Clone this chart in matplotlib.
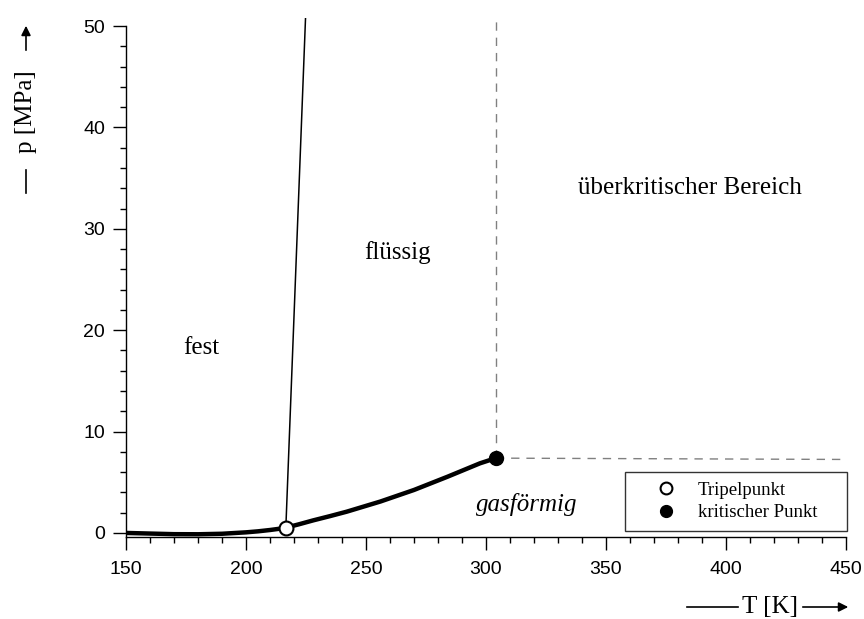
import numpy as np
import matplotlib.pyplot as plt
from matplotlib.ticker import MultipleLocator
from matplotlib.lines import Line2D

# CO2 Phasendiagramm
T_sub = [150, 160, 170, 180, 190, 200, 205, 210, 213.5, 216.6]
p_sub = [0.0, -0.06, -0.12, -0.13, -0.08, 0.06, 0.16, 0.29, 0.40, 0.52]
T_vap = [216.6, 222, 228, 235, 242, 256, 270, 284, 297.5, 304.1]
p_vap = [0.52, 0.85, 1.24, 1.66, 2.10, 3.10, 4.24, 5.55, 6.87, 7.38]
T_melt = [216.6, 225.0]
p_melt = [0.52, 52.0]
T_krit_h = [304.1, 450]
p_krit_h = [7.38, 7.25]
T_trip, p_trip = 216.6, 0.52
T_krit, p_krit = 304.1, 7.38

serif = 'Liberation Serif'
sans = 'Liberation Sans'

fig = plt.figure(figsize=(8.64, 6.19), dpi=100)
ax = fig.add_axes([126 / 864, (619 - 537) / 619, 720 / 864, (537 - 18) / 619])

ax.plot(T_sub + T_vap[1:], p_sub + p_vap[1:], color='black', lw=3.2,
        solid_capstyle='round', solid_joinstyle='round', zorder=3)
ax.plot(T_melt, p_melt, color='black', lw=1.1, zorder=3)
ax.plot([T_krit, T_krit], [p_krit, 52], color='#808080', lw=1.0,
        dashes=(6, 5), zorder=2)
ax.plot(T_krit_h, p_krit_h, color='#808080', lw=1.0, dashes=(6, 5), zorder=2)

ax.plot(T_trip, p_trip, 'o', ms=10, mfc='white', mec='black', mew=1.5,
        zorder=4, label='Tripelpunkt')
ax.plot(T_krit, p_krit, 'o', ms=10, mfc='black', mec='black',
        zorder=4, label='kritischer Punkt')

ax.set_xlim(150, 450)
ax.set_ylim(-0.4, 50.8)
ax.xaxis.set_major_locator(MultipleLocator(50))
ax.xaxis.set_minor_locator(MultipleLocator(10))
ax.yaxis.set_minor_locator(MultipleLocator(2))
ax.set_yticks(np.arange(0, 51, 10))
ax.tick_params(which='major', length=9.5, width=1, labelsize=14, direction='out')
ax.tick_params(which='minor', length=4.5, width=1, direction='out')
ax.tick_params(axis='x', which='major', pad=8)
ax.tick_params(axis='y', which='major', pad=5.5)
for lab in ax.get_xticklabels() + ax.get_yticklabels():
    lab.set_family(sans)

ax.spines['top'].set_visible(False)
ax.spines['right'].set_visible(False)
ax.spines['left'].set_bounds(-0.4, 50)
for s in ('left', 'bottom'):
    ax.spines[s].set_linewidth(1.0)

# Bereiche
ax.text(181.5, 18.2, 'fest', family=serif, fontsize=18, ha='center', va='center')
ax.text(263, 27.7, 'flüssig', family=serif, fontsize=18, ha='center', va='center')
ax.text(385, 34.0, 'überkritischer Bereich', family=serif, fontsize=18,
        ha='center', va='center')
ax.text(317, 2.8, 'gasförmig', family=serif, style='italic', fontsize=18,
        ha='center', va='center')

# Legende unten rechts, Rahmen auf feste Breite gezogen
leg = ax.legend(loc='lower left', bbox_to_anchor=(0.693, 0.012, 0.308, 0.12),
                mode='expand', frameon=True, fancybox=False, borderaxespad=0,
                handlelength=3.4, handletextpad=0.0, borderpad=0.5,
                labelspacing=0.3, prop={'family': serif, 'size': 13.5},
                numpoints=1, markerscale=0.85)
leg.get_frame().set_edgecolor('black')
leg.get_frame().set_linewidth(1.0)

# Achsenbeschriftungen mit Pfeilen
fig.text(26, 619 - 112, 'p [MPa]', transform=None, family=serif, fontsize=18,
         rotation=90, ha='center', va='center')
fig.add_artist(Line2D([26, 26], [619 - 193, 619 - 170], transform=None,
                      color='black', lw=1.2))
ax.annotate('', xy=(26, 619 - 23), xytext=(26, 619 - 53),
            xycoords='figure pixels', textcoords='figure pixels',
            arrowprops=dict(arrowstyle='-|>', color='black', lw=1.2,
                            mutation_scale=14))

fig.text(770, 12, 'T [K]', transform=None, family=serif, fontsize=18,
         ha='center', va='center')
fig.add_artist(Line2D([687, 738], [12, 12], transform=None,
                      color='black', lw=1.2))
ax.annotate('', xy=(851, 12), xytext=(800, 12),
            xycoords='figure pixels', textcoords='figure pixels',
            arrowprops=dict(arrowstyle='-|>', color='black', lw=1.2,
                            mutation_scale=14))

fig.savefig('out.png', dpi=100)
